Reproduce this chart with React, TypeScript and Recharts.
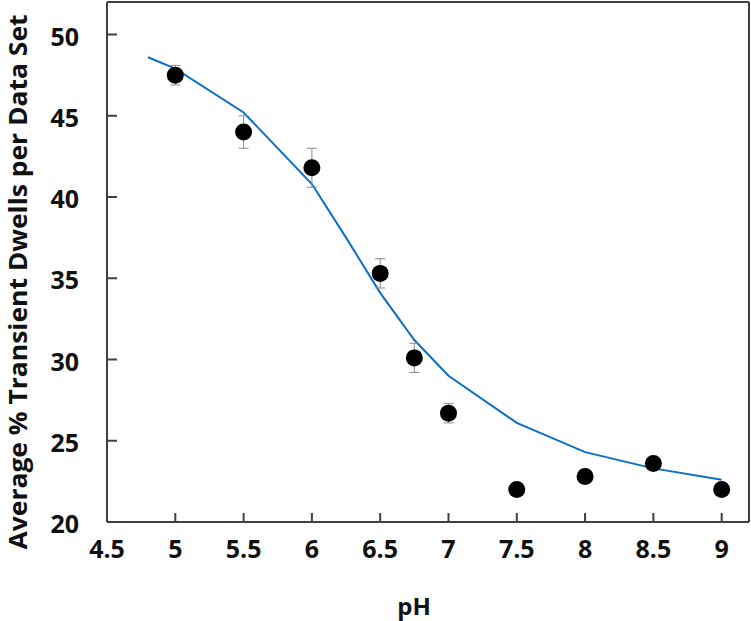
import React from 'react';
import {
    ComposedChart,
    Line,
    Scatter,
    ErrorBar,
    XAxis,
    YAxis,
    ReferenceLine
} from 'recharts';

// measured points (pH, % transient dwells, error)
const phValues = [5, 5.5, 6, 6.5, 6.75, 7, 7.5, 8, 8.5, 9];
const dwellValues = [47.5, 44.0, 41.8, 35.3, 30.1, 26.7, 22.0, 22.8, 23.6, 22.0];
const dwellErrors = [0.6, 1.0, 1.2, 0.9, 0.9, 0.6, 0.3, 0.4, 0.4, 0.3];

// fitted curve
const fitPh = [4.8, 5, 5.5, 6, 6.25, 6.5, 6.75, 7, 7.5, 8, 8.5, 9];
const fitValues = [48.6, 47.9, 45.2, 40.8, 37.5, 34.1, 31.2, 29.0, 26.1, 24.3, 23.3, 22.6];

const xTicks = [4.5, 5, 5.5, 6, 6.5, 7, 7.5, 8, 8.5, 9];
const yTicks = [20, 25, 30, 35, 40, 45, 50];

const points = phValues.map((x, i) => ({ x, y: dwellValues[i], err: dwellErrors[i] }));
const fit = fitPh.map((x, i) => ({ x, y: fitValues[i] }));

const FONT = '"Open Sans", sans-serif';
const AXIS = '#404040';

const XTick = ({ x, y, payload }: any) => (
    <g>
        <line x1={x} x2={x} y1={y} y2={y - 9} stroke={AXIS} strokeWidth={2} />
        <text x={x} y={y + 36} textAnchor="middle" fontFamily={FONT} fontWeight={700} fontSize={25} fill="#111">
            {payload.value}
        </text>
    </g>
);

const YTick = ({ x, y, payload }: any) => (
    <g>
        <line x1={x} x2={x + 10} y1={y} y2={y} stroke={AXIS} strokeWidth={2} />
        <text x={x - 28} y={y + 11} textAnchor="end" fontFamily={FONT} fontWeight={700} fontSize={25} fill="#111">
            {payload.value}
        </text>
    </g>
);

const Dot = (props: any) => <circle cx={props.cx} cy={props.cy} r={8.5} fill="#000" />;

const App = () => {
    return (
        <div style={{ position: 'absolute', left: 0, top: 0, background: '#fff' }}>
            <ComposedChart width={751} height={621} margin={{ top: 2, right: 2, bottom: 0, left: 0 }}>
                <XAxis
                    dataKey="x"
                    type="number"
                    domain={[4.5, 9.2]}
                    ticks={xTicks}
                    allowDataOverflow
                    height={99}
                    tickSize={0}
                    tickMargin={0}
                    tick={<XTick />}
                    stroke={AXIS}
                    strokeWidth={2}
                    label={{
                        content: () => (
                            <text x={414} y={615} textAnchor="middle" fontFamily={FONT} fontWeight={700} fontSize={24} fill="#111">
                                pH
                            </text>
                        )
                    }}
                />
                <YAxis
                    dataKey="y"
                    type="number"
                    domain={[20, 52]}
                    ticks={yTicks}
                    allowDataOverflow
                    width={107}
                    tickSize={0}
                    tickMargin={0}
                    tick={<YTick />}
                    stroke={AXIS}
                    strokeWidth={2}
                    label={{
                        content: () => (
                            <text
                                x={0}
                                y={0}
                                transform="translate(27, 282) rotate(-90)"
                                textAnchor="middle"
                                fontFamily={FONT}
                                fontWeight={700}
                                fontSize={25}
                                fill="#111"
                                textLength={535}
                                lengthAdjust="spacingAndGlyphs"
                            >
                                Average % Transient Dwells per Data Set
                            </text>
                        )
                    }}
                />
                <ReferenceLine y={52} stroke={AXIS} strokeWidth={2} />
                <ReferenceLine x={9.2} stroke={AXIS} strokeWidth={2} />
                <Line
                    data={fit}
                    dataKey="y"
                    type="linear"
                    stroke="#0b6fc6"
                    strokeWidth={2}
                    dot={false}
                    isAnimationActive={false}
                />
                <Scatter data={points} dataKey="y" shape={<Dot />} isAnimationActive={false}>
                    <ErrorBar dataKey="err" direction="y" width={5} stroke="#8a8a8a" strokeWidth={1} />
                </Scatter>
            </ComposedChart>
        </div>
    );
};

export default App;
